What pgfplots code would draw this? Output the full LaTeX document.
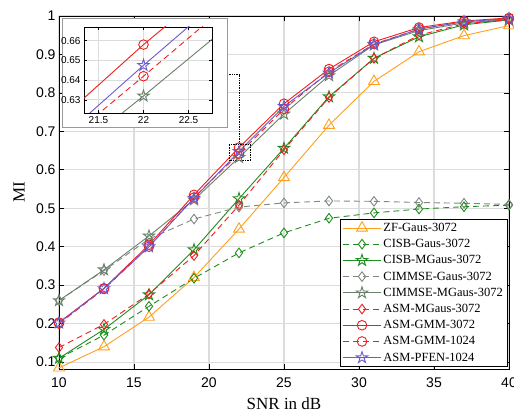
\documentclass[border=0pt]{standalone}
\usepackage{fontspec}
\setmainfont{Liberation Serif}
\setsansfont{Liberation Sans}
\usepackage{pgfplots}
\usepackage{pgfplotstable}
\pgfplotsset{compat=1.18}

\definecolor{zfc}{HTML}{FF9F1C}
\definecolor{cisbc}{HTML}{1E8C1E}
\definecolor{cimgc}{HTML}{7F897F}
\definecolor{cimmc}{HTML}{6A806A}
\definecolor{asmc}{HTML}{F01E1E}
\definecolor{pfenc}{HTML}{6A5ACD}
\definecolor{gridc}{HTML}{DCDCDC}

% outline pentagram like the matlab one
\pgfdeclareplotmark{pentagram}{%
  \pgfpathmoveto{\pgfpointpolar{90}{\pgfplotmarksize}}%
  \pgfpathlineto{\pgfpointpolar{126}{0.382\pgfplotmarksize}}%
  \pgfpathlineto{\pgfpointpolar{162}{\pgfplotmarksize}}%
  \pgfpathlineto{\pgfpointpolar{198}{0.382\pgfplotmarksize}}%
  \pgfpathlineto{\pgfpointpolar{234}{\pgfplotmarksize}}%
  \pgfpathlineto{\pgfpointpolar{270}{0.382\pgfplotmarksize}}%
  \pgfpathlineto{\pgfpointpolar{306}{\pgfplotmarksize}}%
  \pgfpathlineto{\pgfpointpolar{342}{0.382\pgfplotmarksize}}%
  \pgfpathlineto{\pgfpointpolar{18}{\pgfplotmarksize}}%
  \pgfpathlineto{\pgfpointpolar{54}{0.382\pgfplotmarksize}}%
  \pgfpathclose\pgfusepathqstroke}

\pgfplotstableread{
x  zf    cisbg cisbm cimg  cimm  asmm  gmmA  gmmB  pfen
10 0.085 0.110 0.110 0.260 0.260 0.138 0.203 0.200 0.202
13 0.140 0.170 0.185 0.338 0.340 0.198 0.292 0.290 0.291
16 0.217 0.245 0.275 0.420 0.428 0.277 0.405 0.400 0.400
19 0.320 0.318 0.392 0.472 0.522 0.377 0.535 0.528 0.526
22 0.446 0.384 0.525 0.503 0.632 0.508 0.658 0.642 0.6475
25 0.580 0.436 0.656 0.514 0.745 0.652 0.772 0.758 0.765
28 0.716 0.474 0.790 0.519 0.845 0.788 0.862 0.855 0.852
31 0.830 0.488 0.890 0.518 0.925 0.890 0.933 0.927 0.926
34 0.907 0.498 0.946 0.515 0.962 0.950 0.970 0.966 0.966
37 0.949 0.504 0.977 0.513 0.982 0.980 0.987 0.985 0.985
40 0.975 0.508 0.990 0.510 0.991 0.990 0.995 0.993 0.993
}\mi

\pgfplotsset{
  dsh/.style={dash pattern=on 6pt off 4pt},
  zfs/.style={color=zfc, mark=triangle, mark size=6.3pt, line width=0.9pt},
  cisbgs/.style={color=cisbc, dsh, mark=diamond, mark size=4.8pt, mark options={solid}, line width=0.9pt},
  cisbms/.style={color=cisbc, mark=pentagram, mark size=6pt, line width=0.9pt},
  cimgs/.style={color=cimgc, dsh, mark=diamond, mark size=4.8pt, mark options={solid}, line width=0.9pt},
  cimms/.style={color=cimmc, mark=pentagram, mark size=6pt, line width=0.9pt},
  asmms/.style={color=asmc, dsh, mark=diamond, mark size=4.8pt, mark options={solid}, line width=0.9pt},
  gmmAs/.style={color=asmc, mark=o, mark size=4.8pt, line width=0.9pt},
  gmmBs/.style={color=asmc, dsh, mark=o, mark size=4.8pt, mark options={solid}, line width=0.9pt},
  pfens/.style={color=pfenc, mark=pentagram, mark size=6pt, line width=0.9pt},
}

\begin{document}
\begin{tikzpicture}
\useasboundingbox (-59pt,-44pt) rectangle (455pt,369pt);
\begin{axis}[
  name=main,
  at={(0pt,0pt)}, anchor=south west,
  scale only axis,
  width=450pt, height=353pt,
  xmin=10, xmax=40, ymin=0.082, ymax=1,
  xtick={10,15,...,40},
  ytick={0.1,0.2,...,1.0},
  grid=major,
  major grid style={gridc, line width=1.1pt},
  axis line style={line width=0.7pt},
  tick style={black, line width=0.7pt},
  major tick length=5pt,
  tick align=inside,
  /pgf/number format/assume math mode=true,
  tick label style={font=\sffamily\fontsize{14}{14}\selectfont},
  xticklabel style={yshift=-5pt},
  xlabel={SNR in dB},
  ylabel={MI},
  label style={font=\fontsize{17}{17}\selectfont},
  xlabel style={at={(axis description cs:0.5,-0.099)}, anchor=center},
  ylabel style={at={(axis description cs:-0.089,0.5)}, anchor=center},
  legend cell align=left,
  legend style={at={(rel axis cs:0.996,0.006)}, anchor=south east,
    draw=black, line width=0.6pt, fill=white,
    font=\fontsize{12.5}{12.5}\selectfont,
    row sep=2.4pt, inner sep=2pt},
  legend image code/.code={
    \draw[mark repeat=2, mark phase=2, #1]
      plot coordinates {(0pt,0pt) (19pt,0pt) (38pt,0pt)};},
]
\addplot[zfs] table[x=x, y=zf] {\mi};
\addlegendentry{ZF-Gaus-3072}
\addplot[cisbgs] table[x=x, y=cisbg] {\mi};
\addlegendentry{CISB-Gaus-3072}
\addplot[cisbms] table[x=x, y=cisbm] {\mi};
\addlegendentry{CISB-MGaus-3072}
\addplot[cimgs] table[x=x, y=cimg] {\mi};
\addlegendentry{CIMMSE-Gaus-3072}
\addplot[cimms] table[x=x, y=cimm] {\mi};
\addlegendentry{CIMMSE-MGaus-3072}
\addplot[asmms] table[x=x, y=asmm] {\mi};
\addlegendentry{ASM-MGaus-3072}
\addplot[gmmAs] table[x=x, y=gmmA] {\mi};
\addlegendentry{ASM-GMM-3072}
\addplot[gmmBs] table[x=x, y=gmmB] {\mi};
\addlegendentry{ASM-GMM-1024}
\addplot[pfens] table[x=x, y=pfen] {\mi};
\addlegendentry{ASM-PFEN-1024}

% zoom box and its connector
\draw[black, densely dotted, line width=0.7pt]
  (axis cs:21.34,0.6234) rectangle (axis cs:22.76,0.6669);
\draw[black, densely dotted, line width=0.7pt]
  (axis cs:21.2,0.847) -- (axis cs:22,0.847) -- (axis cs:22,0.6669);
\end{axis}

% inset background
\draw[gray!80, fill=white, line width=0.6pt] (3.7pt,242pt) rectangle (168pt,351pt);

\begin{axis}[
  at={(25pt,256pt)}, anchor=south west,
  scale only axis,
  width=128pt, height=86pt,
  xmin=21.34, xmax=22.76, ymin=0.6234, ymax=0.6669,
  xtick={21.5,22,22.5},
  ytick={0.63,0.64,0.65,0.66},
  grid=major,
  major grid style={gridc, line width=1pt},
  axis line style={line width=0.7pt},
  tick style={black, line width=0.6pt},
  major tick length=3pt,
  tick align=inside,
  /pgf/number format/assume math mode=true,
  yticklabel style={/pgf/number format/fixed, /pgf/number format/fixed zerofill, /pgf/number format/precision=2},
  tick label style={font=\sffamily\fontsize{10}{10}\selectfont},
]
\addplot[cimms] table[x=x, y=cimm] {\mi};
\addplot[gmmBs] table[x=x, y=gmmB] {\mi};
\addplot[pfens] table[x=x, y=pfen] {\mi};
\addplot[gmmAs] table[x=x, y=gmmA] {\mi};
\end{axis}
\end{tikzpicture}
\end{document}
